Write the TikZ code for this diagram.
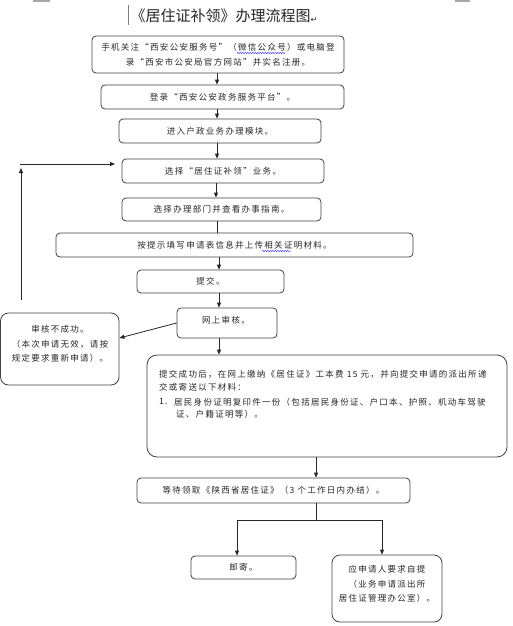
\documentclass[tikz,border=0pt]{standalone}
\usepackage{fontspec}
\setmainfont{Noto Sans CJK SC}
\newfontfamily\bodyfont{Noto Sans CJK SC}[LetterSpace=15]
\newfontfamily\symfont{DejaVu Sans}
\usetikzlibrary{arrows.meta,decorations.pathmorphing}
\begin{document}
\begin{tikzpicture}[x=1pt,y=-1pt,
  box/.style={draw=black!75, line width=0.8pt, rounded corners=4pt, inner sep=0pt,
    font=\bodyfont\fontsize{8.5}{14.5}\selectfont, align=center, text=black!85},
  txt/.style={inner sep=0pt, font=\bodyfont\fontsize{8.5}{13}\selectfont, text=black!85, anchor=west},
  arr/.style={-{Triangle[length=5pt,width=4pt]}, line width=0.8pt, draw=black!85},
  ln/.style={line width=0.8pt, draw=black!85},
  wavy/.style={draw=blue!70, line width=0.5pt, decorate, decoration={snake, amplitude=0.7pt, segment length=2.5pt}}]
\useasboundingbox (0,0) rectangle (513,626);
% page marks and title
\fill[black!35] (33,0) rectangle (50,2);
\fill[black!35] (455,0) rectangle (470,2);
\draw[black!50, line width=0.6pt] (128,5) -- (128,25);
\node[inner sep=0pt, font=\fontsize{15}{18}\selectfont, text=black!85] (title) at (224,16) {《居住证补领》办理流程图\raisebox{-1pt}{\symfont\fontsize{8}{8}\selectfont ↵}};
% boxes
\node[box, minimum width=252, minimum height=37] (b1) at (218,54.5) {手机关注“西安公安服务号”（微信公众号）或电脑登\\录“西安市公安局官方网站”并实名注册。};
\node[box, minimum width=243, minimum height=24] (b2) at (222.5,97) {登录“西安公安政务服务平台”。};
\node[box, minimum width=202, minimum height=24] (b3) at (220,131) {进入户政业务办理模块。};
\node[box, minimum width=202, minimum height=24] (b4) at (223,171) {选择“居住证补领”业务。};
\node[box, minimum width=199, minimum height=23] (b5) at (221.5,209.5) {选择办理部门并查看办事指南。};
\node[box, minimum width=357, minimum height=24] (b6) at (234.5,245) {按提示填写申请表信息并上传相关证明材料。};
\node[box, minimum width=147, minimum height=23] (b7) at (210.5,281.5) {提交。};
\node[box, minimum width=100, minimum height=30] (b8) at (227,323) {};
\node[txt, anchor=center] (b8t) at (226,320) {网上审核。};
\node[box, rounded corners=8pt, minimum width=118.5, minimum height=72] (b9) at (59.75,349) {};
\node[box, draw=none, anchor=center] (b9t) at (60,344) {审核不成功。\\（本次申请无效，请按\\规定要求重新申请）。};
\node[box, rounded corners=10pt, minimum width=360, minimum height=102] (b10) at (327,406) {};
\node[txt] (t1) at (159,374) {提交成功后，在网上缴纳《居住证》工本费 15 元，并向提交申请的派出所递};
\node[txt] (t2) at (159,387) {交或寄送以下材料：};
\node[txt] (t3) at (159,402) {1.};
\node[txt] (t3b) at (174,402) {居民身份证明复印件一份（包括居民身份证、户口本、护照、机动车驾驶};
\node[txt] (t4) at (176,414) {证、户籍证明等）。};
\node[box, minimum width=273, minimum height=25] (b11) at (273.5,490.5) {等待领取《陕西省居住证》（3 个工作日内办结）。};
\node[box, minimum width=105, minimum height=23] (b12) at (243.5,567.5) {邮寄。};
\node[box, rounded corners=8pt, minimum width=110, minimum height=67] (b13) at (387,588.5) {};
\node[box, draw=none, anchor=center] (b13t) at (387,584) {应申请人要求自提\\（业务申请派出所\\居住证管理办公室）。};
% spell-check underlines
\draw[wavy] (237,53) -- (285,53);
\draw[wavy] (262,251) -- (291,251);
% connector x positions
\coordinate (xa) at (217,0);
\coordinate (xb) at (216,0);
\coordinate (xc) at (219,0);
\coordinate (xd) at (316,0);
\coordinate (xl) at (237,0);
\coordinate (xr) at (382,0);
\coordinate (j) at (316,520);
\coordinate (fb1) at (21,300);
\coordinate (fb2) at (21,168);
\coordinate (fb3) at (20,164);
\coordinate (fb4) at (115,164);
% connectors
\draw[arr] (b1.south -| xa) -- (b2.north -| xa);
\draw[arr] (b2.south -| xa) -- (b3.north -| xa);
\draw[arr] (b3.south -| xa) -- (b4.north -| xa);
\draw[arr] (b4.south -| xb) -- (b5.north -| xb);
\draw[ln] (b5.south -| xa) -- (b6.north -| xa);
\draw[arr] (b6.south -| xc) -- (b7.north -| xc);
\draw[arr] (b7.south -| xc) -- (b8.north -| xc);
\draw[arr] (b8.south -| xc) -- (b10.north -| xc);
\draw[arr] (b8.west) -- ([yshift=11pt]b9.east);
\draw[arr] (fb1) -- (fb2);
\draw[arr] (fb3) -- (fb4);
\draw[arr] (b10.south -| xd) -- (b11.north -| xd);
\draw[ln] (b11.south -| xd) -- (j);
\draw[arr] (j) -| (b12.north -| xl);
\draw[arr] (j) -| (b13.north -| xr);
\end{tikzpicture}
\end{document}
